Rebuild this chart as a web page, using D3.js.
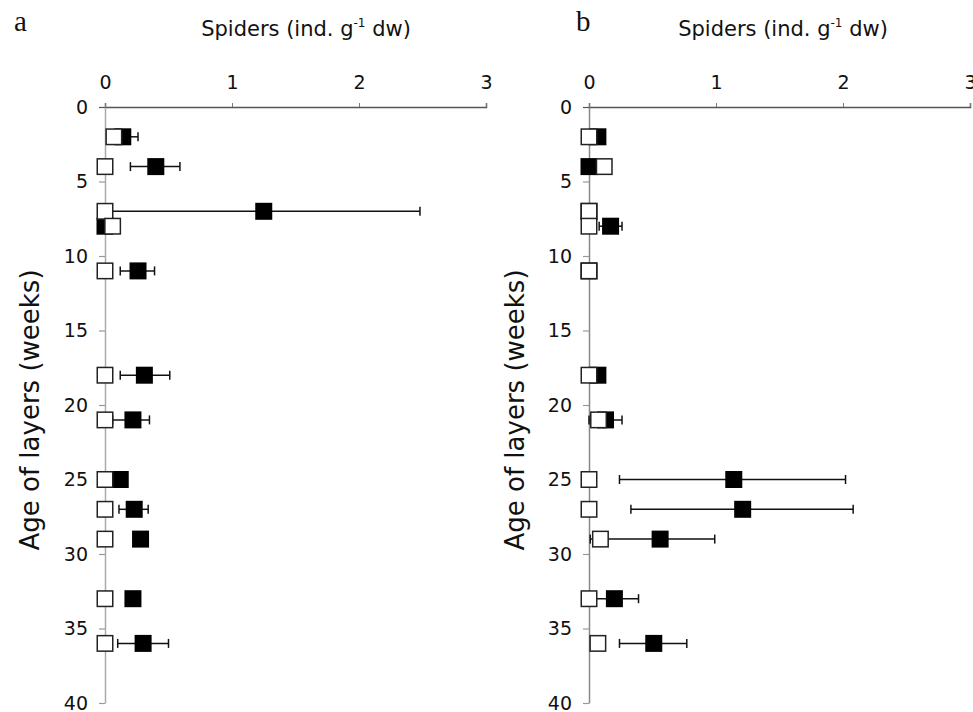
<!DOCTYPE html>
<html><head><meta charset="utf-8">
<script src="https://cdn.jsdelivr.net/npm/d3@7"></script>
<style>body{margin:0;background:#fff}svg{display:block}</style>
</head><body>
<script>
// ---- data ----
const xTicks = [0, 1, 2, 3];
const yTicks = [0, 5, 10, 15, 20, 25, 30, 35, 40];

const weeksA = [2, 4, 7, 8, 11, 18, 21, 25, 27, 29, 33, 36];
const openA = [0.07, 0, 0, 0.06, 0, 0, 0, 0, 0, 0, 0, 0];
const filledA = [0.14, 0.40, 1.25, 0, 0.26, 0.31, 0.22, 0.12, 0.23, 0.28, 0.22, 0.30];
const filledLoA = [0.02, 0.20, 0.02, null, 0.12, 0.12, 0.06, null, 0.11, null, null, 0.10];
const filledHiA = [0.26, 0.59, 2.48, null, 0.39, 0.51, 0.35, null, 0.34, null, null, 0.50];

const weeksB = [2, 4, 7, 8, 11, 18, 21, 25, 27, 29, 33, 36];
const openB = [0, 0.12, 0, 0, 0, 0, 0.075, 0, 0, 0.09, 0, 0.07];
const filledB = [0.07, 0, 0, 0.17, 0, 0.07, 0.13, 1.14, 1.21, 0.56, 0.20, 0.51];
const filledLoB = [null, null, null, 0.08, null, null, 0.0, 0.24, 0.33, 0.01, 0.01, 0.24];
const filledHiB = [null, null, null, 0.26, null, null, 0.26, 2.02, 2.08, 0.99, 0.39, 0.77];

const panels = [
  {letter: "a", weeks: weeksA, open: openA, filled: filledA, lo: filledLoA, hi: filledHiA,
   x0: 105, x1: 486, vColor: "#aaa", letterX: 14, titleX: 306, yTitleX: 39},
  {letter: "b", weeks: weeksB, open: openB, filled: filledB, lo: filledLoB, hi: filledHiB,
   x0: 589, x1: 970, vColor: "#888", letterX: 576, titleX: 783, yTitleX: 524}
];

const W = 973, H = 712;
const FONT = "DejaVu Sans, Verdana, sans-serif";
const svg = d3.select("body").append("svg").attr("width", W).attr("height", H)
  .style("font-family", FONT);
svg.append("rect").attr("width", W).attr("height", H).attr("fill", "#fff");

const S = 17; // marker size

panels.forEach(p => {
  const x = d3.scaleLinear().domain([0, 3]).range([p.x0, p.x1]);
  const y = d3.scaleLinear().domain([0, 40]).range([107, 703]);
  const g = svg.append("g");

  // panel letter
  g.append("text").attr("x", p.letterX).attr("y", 31)
    .attr("font-family", "Liberation Serif, Times New Roman, serif")
    .attr("font-size", 29).attr("fill", "#111").text(p.letter);

  // x title
  const t = g.append("text").attr("x", p.titleX).attr("y", 36)
    .attr("text-anchor", "middle").attr("font-size", 21).attr("fill", "#111");
  t.append("tspan").text("Spiders (ind. g");
  t.append("tspan").attr("font-size", 12).attr("dy", -9).text("-1");
  t.append("tspan").attr("dy", 9).text(" dw)");

  // y title
  g.append("text").attr("transform", `translate(${p.yTitleX},410) rotate(-90)`)
    .attr("text-anchor", "middle").attr("font-size", 26).attr("fill", "#111")
    .text("Age of layers (weeks)");

  // top axis
  const xa = g.append("g").attr("transform", `translate(0,${y(0)})`)
    .call(d3.axisTop(x).tickValues(xTicks).tickFormat(d3.format("d")).tickSize(4).tickPadding(14));
  xa.select(".domain").attr("stroke", "#555").attr("stroke-width", 1.5);
  xa.selectAll(".tick line").attr("stroke", "#777");
  xa.selectAll(".tick text").attr("font-size", 19).attr("fill", "#111").attr("font-family", FONT);

  // left axis
  const ya = g.append("g").attr("transform", `translate(${x(0)},0)`)
    .call(d3.axisLeft(y).tickValues(yTicks).tickSize(6).tickSizeOuter(0).tickPadding(11));
  ya.select(".domain").attr("stroke", p.vColor).attr("stroke-width", 1.5);
  ya.selectAll(".tick line").attr("stroke", "#999").attr("stroke-width", 1.2);
  ya.selectAll(".tick text").attr("font-size", 19).attr("fill", "#111").attr("font-family", FONT);
  ya.select(".tick line").attr("stroke", "#555");

  const rows = p.weeks.map((w, i) => ({w, o: p.open[i], f: p.filled[i], lo: p.lo[i], hi: p.hi[i]}));
  const eb = rows.filter(r => r.lo !== null);

  // error bars
  const eg = g.append("g").attr("stroke", "#111").attr("stroke-width", 1.5);
  eg.selectAll("line.e").data(eb).join("line")
    .attr("x1", r => x(r.lo)).attr("x2", r => x(r.hi))
    .attr("y1", r => y(r.w)).attr("y2", r => y(r.w));
  eg.selectAll("line.cl").data(eb).join("line")
    .attr("x1", r => x(r.lo)).attr("x2", r => x(r.lo))
    .attr("y1", r => y(r.w) - 4.5).attr("y2", r => y(r.w) + 4.5);
  eg.selectAll("line.ch").data(eb).join("line")
    .attr("x1", r => x(r.hi)).attr("x2", r => x(r.hi))
    .attr("y1", r => y(r.w) - 4.5).attr("y2", r => y(r.w) + 4.5);

  // filled squares
  g.append("g").selectAll("rect").data(rows).join("rect")
    .attr("x", r => x(r.f) - S / 2).attr("y", r => y(r.w) - S / 2)
    .attr("width", S).attr("height", S).attr("fill", "#000");

  // open squares
  g.append("g").selectAll("rect").data(rows).join("rect")
    .attr("x", r => x(r.o) - S / 2 + 0.75).attr("y", r => y(r.w) - S / 2 + 0.75)
    .attr("width", S - 1.5).attr("height", S - 1.5)
    .attr("fill", "#fff").attr("stroke", "#222").attr("stroke-width", 1.5);
});
</script>
</body></html>
